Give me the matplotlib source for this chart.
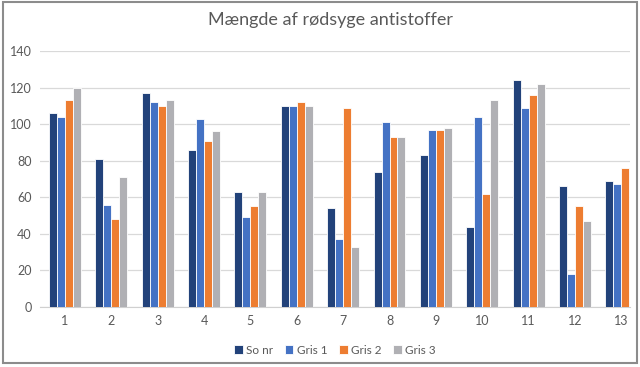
import matplotlib.pyplot as plt
import numpy as np
from matplotlib.patches import Rectangle

categories = ['1', '2', '3', '4', '5', '6', '7', '8', '9', '10', '11', '12', '13']
so_nr = [106, 81, 117, 86, 63, 110, 54, 74, 83, 44, 124, 66, 69]
gris1 = [104, 56, 112, 103, 49, 110, 37, 101, 97, 104, 109, 18, 67]
gris2 = [113, 48, 110, 91, 55, 112, 109, 93, 97, 62, 116, 55, 76]
gris3 = [120, 71, 113, 96, 63, 110, 33, 93, 98, 113, 122, 47, np.nan]

series = [('So nr', so_nr, '#22427a'),
          ('Gris 1', gris1, '#4472c4'),
          ('Gris 2', gris2, '#ed7d31'),
          ('Gris 3', gris3, '#b0b0b4')]

plt.rcParams['font.family'] = ['Lato', 'DejaVu Sans']

fig = plt.figure(figsize=(6.4, 3.67), dpi=100)
ax = fig.add_axes([0.0625, 0.1635, 0.922, 0.6975])

x = np.arange(len(categories))
w = 0.172
for i, (name, vals, col) in enumerate(series):
    ax.bar(x + (i - 1.5) * w, vals, w, color=col, edgecolor='white',
           linewidth=0.6, label=name, zorder=3)

ax.set_xlim(-0.54, 12.19)
ax.set_ylim(0, 140)
ax.set_yticks(range(0, 141, 20))
ax.set_xticks(x)
ax.set_xticklabels(categories)
ax.grid(axis='y', color='#d9d9d9', linewidth=0.9, zorder=0)
for s in ['top', 'right', 'left']:
    ax.spines[s].set_visible(False)
ax.spines['bottom'].set_color('#d0d0d0')
ax.tick_params(length=0, colors='#595959', labelsize=9, pad=6)

fig.text(0.516, 0.945, 'Mængde af rødsyge antistoffer', ha='center', va='center',
         fontsize=13, color='#595959')

ax.legend(loc='center', bbox_to_anchor=(0.5, -0.168), ncol=4, frameon=False,
          fontsize=8.5, labelcolor='#595959', handlelength=0.7, handleheight=0.7,
          handletextpad=0.3, columnspacing=1.0)

fig.add_artist(Rectangle((0.005, 0.01), 0.99, 0.985, transform=fig.transFigure,
                         fill=False, edgecolor='#8c8c8c', linewidth=1.5))

fig.savefig('out.png', dpi=100)
